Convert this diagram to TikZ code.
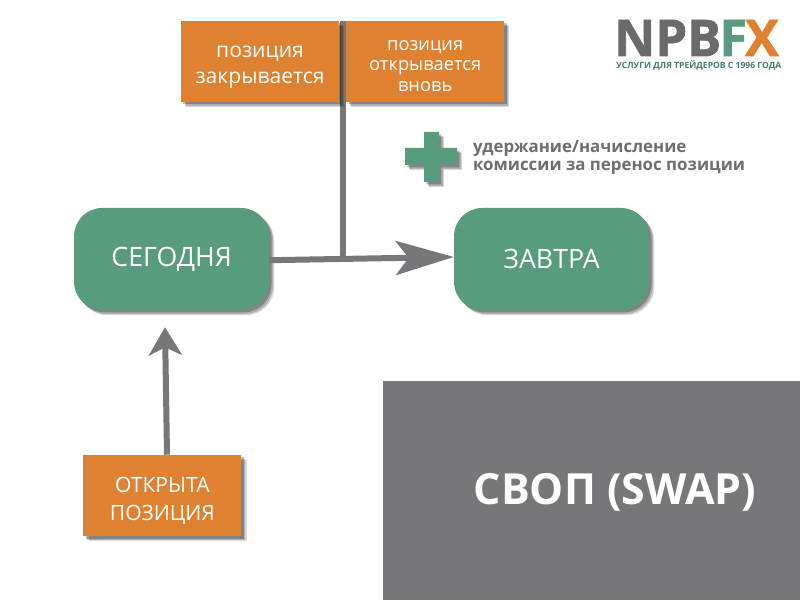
\documentclass[tikz,border=0pt]{standalone}
\usepackage{fontspec}
\setmainfont{Open Sans}
\newfontfamily\logofont{Open Sans}[UprightFont=* Bold,FakeBold=1.4]
\usetikzlibrary{arrows.meta,calc,positioning,backgrounds,shadows}
\definecolor{greenc}{RGB}{88,155,125}
\definecolor{orangec}{RGB}{222,130,50}
\definecolor{greyc}{RGB}{119,119,121}
\definecolor{txt}{RGB}{110,110,114}
\definecolor{logoc}{RGB}{104,106,108}
\newcommand{\lowa}{\rule{0pt}{17pt}}
\newcommand{\lowb}{\rule{0pt}{13.5pt}}
\newcommand{\lowc}{\rule{0pt}{18.3pt}}
\tikzset{
  shade3/.style={
    drop shadow={shadow xshift=0.13cm,shadow yshift=-0.13cm,opacity=0.14,fill=black},
    drop shadow={shadow xshift=0.10cm,shadow yshift=-0.10cm,opacity=0.2,fill=black},
    drop shadow={shadow xshift=0.06cm,shadow yshift=-0.06cm,opacity=0.25,fill=black}},
  daybox/.style={fill=greenc,rounded corners=0.7cm,minimum width=4.875cm,minimum height=2.55cm,inner sep=0pt,text=white,font=\fontsize{19}{21}\selectfont,shade3},
  posbox/.style={fill=orangec,minimum width=3.95cm,minimum height=2.03cm,inner sep=0pt,text=white,align=center,shade3},
  flow/.style={-{Stealth[length=1.45cm,width=0.85cm,inset=0.32cm]},greyc,line width=0.15cm},
  upflow/.style={-{Stealth[length=0.7cm,width=0.83cm,inset=0.2cm]},greyc,line width=0.15cm},
  trunk/.style={greyc,line width=0.15cm},
  logo/.style={font=\fontsize{36}{36}\logofont,inner sep=0pt,anchor=base west},
}
\begin{document}
\begin{tikzpicture}[x=1cm,y=1cm]
\useasboundingbox (0,0) rectangle (20,15);
% ================= Panel =================
\fill[greyc] (9.575,0) rectangle (20,5.475);
\node[text=white,font=\fontsize{30.5}{34}\selectfont\bfseries] (title) at (15.375,2.7) {СВОП (SWAP)};
% ================= Day boxes =================
\node[daybox] (today) at (4.29,8.525) {СЕГОДНЯ};
\node[daybox] (tomorrow) at (13.79,8.525) {ЗАВТРА};
% ================= Position boxes =================
\node[posbox,font=\fontsize{15}{18.5}\selectfont] (closes) at (6.5,13.47) {\lowa позиция\\закрывается};
\node[posbox,font=\fontsize{13}{14.6}\selectfont] (reopens) at (10.63,13.47) {\lowb позиция\\открывается\\вновь};
\node[posbox,font=\fontsize{15}{20}\selectfont] (opened) at (4.06,2.61) {\lowc ОТКРЫТА\\ПОЗИЦИЯ};
% ================= Connectors =================
\coordinate (top) at (8.57,14.48);
\coordinate (joint) at (8.57,8.55);
\coordinate (todayout) at ($(today.east)+(0,-0.03)$);
\coordinate (tomorrowin) at ($(tomorrow.west)+(0,0.05)$);
\coordinate (openout) at ($(opened.north)+(0.115,0)$);
\coordinate (openin) at ($(today.south)+(-0.165,-0.425)$);
\begin{scope}[on background layer]
  \draw[trunk] (top) -- (joint);
\end{scope}
\draw[flow] (todayout) -- (tomorrowin);
\draw[upflow] (openout) -- (openin);
% ================= Plus and note =================
\fill[greenc,shade3]
  (10.6,10.45) -- ++(0.375,0) -- ++(0,0.425) -- ++(0.45,0) -- ++(0,0.425) -- ++(-0.45,0) -- ++(0,0.4)
  -- ++(-0.375,0) -- ++(0,-0.4) -- ++(-0.475,0) -- ++(0,-0.425) -- ++(0.475,0) -- cycle;
\node[text=txt,font=\fontsize{12}{12.8}\selectfont\bfseries,align=left,anchor=west,inner sep=0pt] (note) at (11.82,11.07) {удержание/начисление\\комиссии за перенос позиции};
% ================= Logo =================
\node[logo,text=logoc] (npb) at (15.35,13.6) {NPB};
\node[logo,text=greenc] (logof) at (17.98,13.6) {F};
\node[logo,text=orangec] (logox) at (18.62,13.6) {X};
\node[text=greenc!80!black,font=\fontsize{6.1}{7}\selectfont\bfseries,inner sep=0pt,anchor=west] (tag) at (15.4,13.37) {УСЛУГИ ДЛЯ ТРЕЙДЕРОВ С 1996 ГОДА};
\end{tikzpicture}
\end{document}
